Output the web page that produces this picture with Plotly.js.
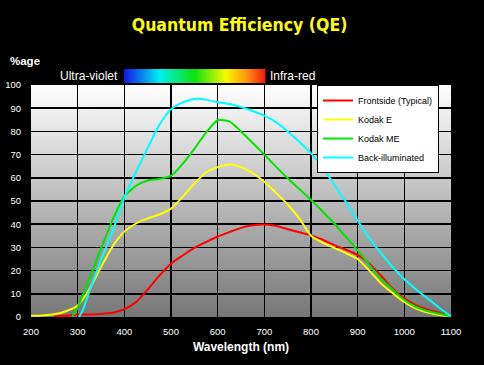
<!DOCTYPE html>
<html>
<head>
<meta charset="utf-8">
<script src="https://cdn.plot.ly/plotly-3.0.1.min.js"></script>
<style>
  html, body { margin: 0; padding: 0; background: #000; }
  #chart { width: 484px; height: 365px; }
</style>
</head>
<body>
<div id="chart"></div>
<script>
// ---- Data ----
const seriesNames = ['Frontside (Typical)', 'Kodak E', 'Kodak ME', 'Back-illuminated'];

const wlFront = [250,275,300,325,350,375,400,425,450,475,500,525,550,575,600,625,650,675,700,725,750,775,800,825,850,875,900,925,950,975,1000,1025,1050,1075,1100];
const qeFront = [0.3,0.5,1.0,1.1,1.3,1.8,3.4,6.4,11.8,17.8,23,26.5,29.8,32.3,34.7,36.6,38.4,39.5,39.9,39.3,37.8,36.5,35.3,33.3,31,29,26.8,23,17.8,12.2,8,5,3.2,1.8,0.3];

const wlKodakE = [200,225,250,275,300,325,350,375,400,425,450,475,500,525,550,575,600,625,650,675,700,725,750,775,800,825,850,875,900,925,950,975,1000,1025,1050,1075,1100];
const qeKodakE = [0.5,0.7,1.2,2.5,5,12,21.5,30.5,36.8,40.3,42.5,44.2,46.7,51.8,57.5,62.3,64.6,65.7,64.6,62,58.3,53.5,48.5,42.5,35,32,29.8,27.5,25,20,14.5,10.3,6.5,3.6,1.9,0.9,0.3];

const wlKodakME = [288,300,325,350,375,400,425,450,475,500,525,550,575,600,625,650,675,700,725,750,775,800,825,850,875,900,925,950,975,1000,1025,1050,1075,1100];
const qeKodakME = [0,4,16.5,29.5,42,52,56.5,58.8,59.5,60.8,66,72.5,79.5,84.8,84.3,80,75,70,64.8,59.8,55.2,50.5,45.5,40.3,34.5,28.7,22.5,16.5,11.8,7.3,4.3,2.5,1.4,0.3];

const wlBackIll = [303,310,325,350,375,400,425,450,475,500,525,550,575,600,625,650,675,700,725,750,775,800,825,850,875,900,925,950,975,1000,1025,1050,1075,1100];
const qeBackIll = [0,2.5,11,24.6,37,51.5,62.5,72.8,82.8,89.5,92.5,94,93.7,92.6,91.8,90.5,88.8,86.8,84,80,75.5,70.5,64.5,57,49.5,41.5,34,27.5,21.5,16.3,12,8,4,0.3];

const xTicks = [200,300,400,500,600,700,800,900,1000,1100];
const yTicks = [0,10,20,30,40,50,60,70,80,90,100];

// ---- Styles ----
const lineColors = ['#ff0000', '#ffff00', '#00e400', '#00ffff'];
const sans = 'Liberation Sans, Arial, sans-serif';

// gradient images (decoration)
function gradientURL(w, h, horizontal, stops) {
  const c = document.createElement('canvas');
  c.width = w; c.height = h;
  const ctx = c.getContext('2d');
  const g = horizontal ? ctx.createLinearGradient(0, 0, w, 0) : ctx.createLinearGradient(0, 0, 0, h);
  stops.forEach(s => g.addColorStop(s[0], s[1]));
  ctx.fillStyle = g;
  ctx.fillRect(0, 0, w, h);
  return c.toDataURL('image/png');
}
const plotBg = gradientURL(4, 256, false, [[0, '#ffffff'], [1, '#777777']]);
const spectrum = gradientURL(300, 8, true, [
  [0, '#1414e6'], [0.25, '#00f0f0'], [0.5, '#10e010'], [0.72, '#f8f800'], [0.86, '#ff9a10'], [1, '#f01a10']
]);

const xs = [wlFront, wlKodakE, wlKodakME, wlBackIll];
const ys = [qeFront, qeKodakE, qeKodakME, qeBackIll];

const traces = seriesNames.map((name, i) => ({
  type: 'scatter',
  mode: 'lines',
  name: name,
  x: xs[i],
  y: ys[i],
  line: { color: lineColors[i], width: 2, shape: 'spline', smoothing: 0.6 },
  hoverinfo: 'skip'
}));

const layout = {
  width: 484,
  height: 365,
  margin: { l: 31, r: 33, t: 85, b: 48, pad: 0 },
  paper_bgcolor: '#000000',
  plot_bgcolor: 'rgba(0,0,0,0)',
  showlegend: true,
  title: {
    text: '<b>Quantum Efficiency (QE)</b>',
    font: { family: 'Liberation Sans Narrow, DejaVu Sans Condensed, Arial Narrow, sans-serif', size: 17.5, color: '#ffff00' },
    xref: 'container', x: 0.495, xanchor: 'center',
    yref: 'container', y: 0.932, yanchor: 'middle'
  },
  xaxis: {
    range: [200, 1100],
    tickvals: xTicks,
    ticktext: xTicks.map(String),
    showgrid: true, gridcolor: '#000000', gridwidth: 1.5,
    zeroline: false, showline: false,
    ticks: 'outside', ticklen: 6, tickcolor: '#000000',
    tickfont: { family: sans, size: 9.5, color: '#ffffff' },
    title: { text: '<b>Wavelength (nm)</b>', font: { family: sans, size: 12, color: '#ffffff' }, standoff: 6 },
    fixedrange: true
  },
  yaxis: {
    range: [0, 100],
    tickvals: yTicks,
    ticktext: yTicks.map(String),
    showgrid: true, gridcolor: '#000000', gridwidth: 1.5,
    zeroline: false, showline: false,
    ticks: 'outside', ticklen: 7, tickcolor: '#000000',
    tickfont: { family: sans, size: 9.5, color: '#ffffff' },
    fixedrange: true
  },
  legend: {
    x: 0.681, y: 1, xanchor: 'left', yanchor: 'top',
    bgcolor: '#ffffff', bordercolor: '#000000', borderwidth: 1,
    font: { family: sans, size: 9, color: '#000000' }
  },
  images: [
    { source: plotBg, xref: 'paper', yref: 'paper', x: 0, y: 1, sizex: 1, sizey: 1,
      sizing: 'stretch', xanchor: 'left', yanchor: 'top', layer: 'below' },
    { source: spectrum, xref: 'paper', yref: 'paper', x: 0.2214, y: 1.0688, sizex: 0.3369, sizey: 0.0602,
      sizing: 'stretch', xanchor: 'left', yanchor: 'top', layer: 'above' }
  ],
  annotations: [
    { text: '<b>%age</b>', xref: 'paper', yref: 'paper', x: -0.054, y: 1.103, xanchor: 'left', yanchor: 'middle',
      showarrow: false, font: { family: sans, size: 11.5, color: '#ffffff' } },
    { text: 'Ultra-violet', xref: 'paper', yref: 'paper', x: 0.212, y: 1.0387, xanchor: 'right', yanchor: 'middle',
      showarrow: false, font: { family: sans, size: 12, color: '#ffffff' } },
    { text: 'Infra-red', xref: 'paper', yref: 'paper', x: 0.564, y: 1.0387, xanchor: 'left', yanchor: 'middle',
      showarrow: false, font: { family: sans, size: 12, color: '#ffffff' } }
  ]
};

Plotly.newPlot('chart', traces, layout, { staticPlot: true, displayModeBar: false });
</script>
</body>
</html>
